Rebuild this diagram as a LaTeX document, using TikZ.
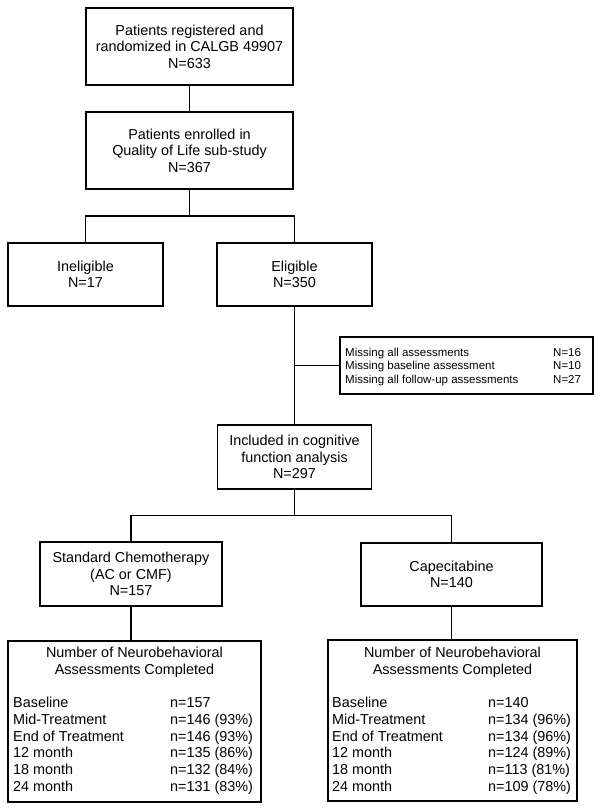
\documentclass[tikz,border=0pt]{standalone}
\usepackage{fontspec}
\setmainfont{Liberation Sans}
\begin{document}
\begin{tikzpicture}[x=1pt,y=-1pt,
  box/.style={draw, line width=1.8pt, inner sep=0pt, align=center,
    font=\fontsize{14.4}{16.5}\selectfont},
  plainbox/.style={draw, line width=1.8pt, inner sep=0pt},
  txt/.style={inner sep=0pt, align=center, font=\fontsize{14.4}{17.4}\selectfont},
  rows/.style={inner sep=0pt, anchor=north west, font=\fontsize{14.4}{16.7}\selectfont},
  exrows/.style={inner sep=0pt, anchor=north west, font=\fontsize{11.5}{13.5}\selectfont},
  link/.style={line width=1.5pt}]
\useasboundingbox[fill=white] (0,0) rectangle (601,810);

\node[box, minimum width=207pt, minimum height=77pt] (reg) at (189.5,46.5)
  {Patients registered and\\randomized in CALGB 49907\\N=633};
\node[box, minimum width=207pt, minimum height=77pt] (qol) at (189.5,150.5)
  {Patients enrolled in\\Quality of Life sub-study\\N=367};
\coordinate (j1) at (189.5,216);
\node[box, minimum width=155pt, minimum height=63pt] (inel) at (85.5,274.5)
  {Ineligible\\N=17};
\node[box, minimum width=155pt, minimum height=63pt] (elig) at (294.5,274.5)
  {Eligible\\N=350};

\node[plainbox, minimum width=253pt, minimum height=57pt] (excl) at (466.5,365.5) {};
\node[exrows] (excltxt) at (345,346.6)
  {\begin{tabular}{@{}p{208pt}@{}l@{}}
   Missing all assessments & N=16\\
   Missing baseline assessment & N=10\\
   Missing all follow-up assessments & N=27
   \end{tabular}};

\node[box, minimum width=154pt, minimum height=64pt] (incl) at (294.5,457)
  {Included in cognitive\\function analysis\\N=297};
\coordinate (j2) at (294.5,515.5);
\node[box, minimum width=182pt, minimum height=64pt] (std) at (131,574)
  {Standard Chemotherapy\\(AC or CMF)\\N=157};
\node[box, minimum width=181pt, minimum height=63pt] (cap) at (451.5,574.5)
  {Capecitabine\\N=140};

\node[plainbox, minimum width=253pt, minimum height=161pt] (lbox) at (134.5,721.5) {};
\node[plainbox, minimum width=249pt, minimum height=161pt] (rbox) at (452.5,720.5) {};
\node[txt] (ltitle) at (134.5,662) {Number of Neurobehavioral\\Assessments Completed};
\node[txt] (rtitle) at (452.5,662) {Number of Neurobehavioral\\Assessments Completed};
\node[rows] (lrows) at (13,696)
  {\begin{tabular}{@{}p{157pt}@{}l@{}}
   Baseline & n=157\\
   Mid-Treatment & n=146 (93\%)\\
   End of Treatment & n=146 (93\%)\\
   12 month & n=135 (86\%)\\
   18 month & n=132 (84\%)\\
   24 month & n=131 (83\%)
   \end{tabular}};
\node[rows] (rrows) at (332,696)
  {\begin{tabular}{@{}p{156pt}@{}l@{}}
   Baseline & n=140\\
   Mid-Treatment & n=134 (96\%)\\
   End of Treatment & n=134 (96\%)\\
   12 month & n=124 (89\%)\\
   18 month & n=113 (81\%)\\
   24 month & n=109 (78\%)
   \end{tabular}};

\draw[link] (reg.south) -- (qol.north);
\draw[link] (qol.south) -- (j1);
\draw[link] (inel.north) |- (j1) -| (elig.north);
\draw[link] (elig.south) -- (incl.north);
\draw[link] (excl.west) -- (excl.west -| elig.south);
\draw[link] (incl.south) -- (j2);
\draw[link] (std.north) |- (j2) -| (cap.north);
\draw[link] (std.south) -- (std.south |- lbox.north);
\draw[link] (cap.south) -- (cap.south |- rbox.north);
\end{tikzpicture}
\end{document}
